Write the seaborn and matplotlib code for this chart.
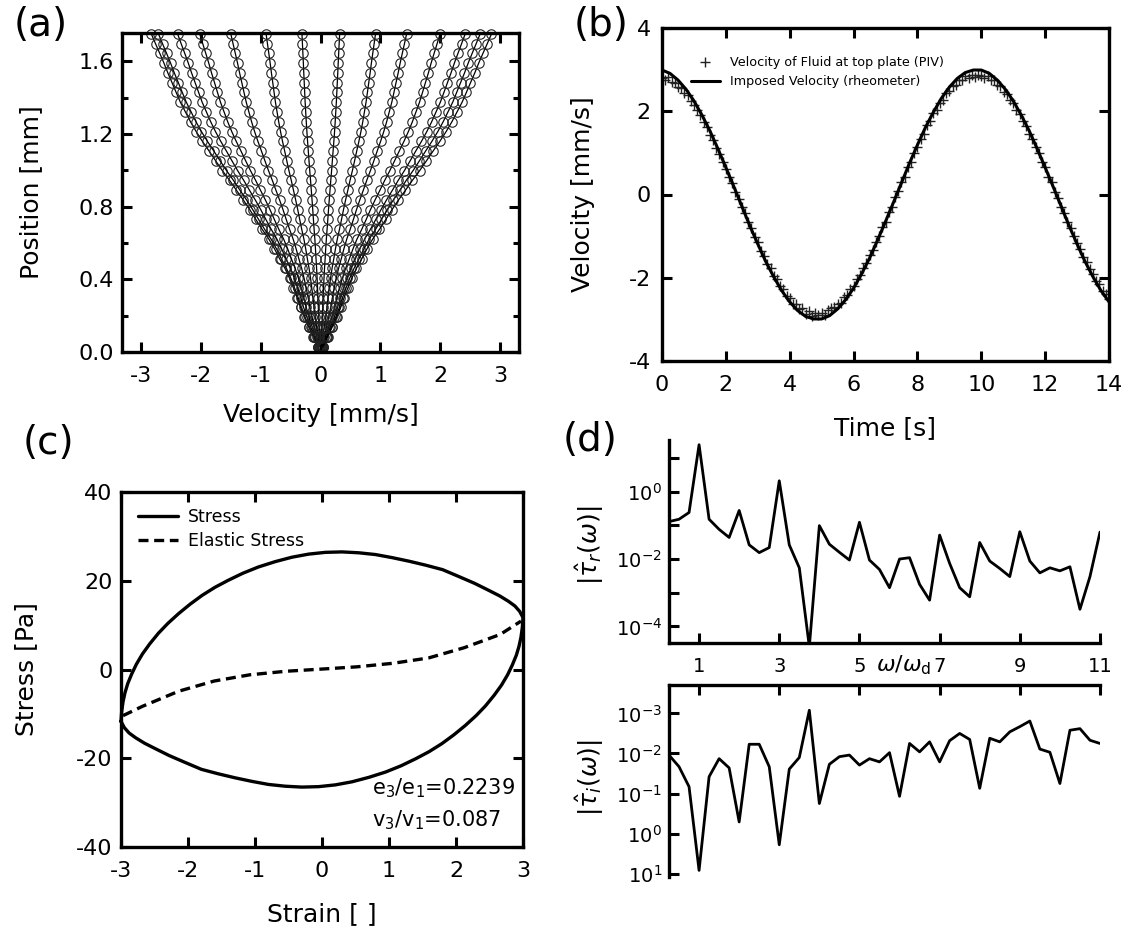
import numpy as np
import pandas as pd
import matplotlib
matplotlib.use("Agg")
import matplotlib.pyplot as plt
import seaborn as sns
from matplotlib.lines import Line2D
from matplotlib.ticker import FixedLocator, FixedFormatter, NullLocator

# ---------------- data ----------------
# (a) velocity profiles across the gap, one per phase of the oscillation
position_mm = [0.030, 0.084, 0.138, 0.191, 0.245, 0.299, 0.353, 0.406, 0.460, 0.514, 0.568,
               0.621, 0.675, 0.729, 0.783, 0.836, 0.890, 0.944, 0.998, 1.051, 1.105, 1.159,
               1.213, 1.266, 1.320, 1.374, 1.428, 1.481, 1.535, 1.589, 1.643, 1.696, 1.750]
profile_shape = [0.015, 0.042, 0.069, 0.095, 0.118, 0.138, 0.160, 0.183, 0.210, 0.242, 0.272,
                 0.305, 0.345, 0.382, 0.418, 0.456, 0.497, 0.537, 0.580, 0.619, 0.658, 0.698,
                 0.735, 0.768, 0.798, 0.828, 0.853, 0.877, 0.902, 0.925, 0.950, 0.975, 1.000]
top_velocity = [-2.83, -2.71, -2.39, -2.02, -1.50, -0.91, -0.31,
                0.32, 0.92, 1.44, 2.00, 2.42, 2.67, 2.86]

# (b) plate velocity vs time
time_line = np.linspace(0, 14, 57)
imposed_velocity = [2.99, 2.91, 2.75, 2.53, 2.25, 1.91, 1.53, 1.10, 0.65, 0.19,
                    -0.28, -0.75, -1.19, -1.61, -1.98, -2.31, -2.58, -2.79, -2.93, -2.99,
                    -2.99, -2.91, -2.75, -2.53, -2.25, -1.91, -1.53, -1.10, -0.65, -0.19,
                    0.28, 0.75, 1.19, 1.61, 1.98, 2.31, 2.58, 2.79, 2.93, 2.99,
                    2.99, 2.91, 2.75, 2.53, 2.25, 1.91, 1.53, 1.10, 0.65, 0.19,
                    -0.28, -0.75, -1.19, -1.61, -1.98, -2.31, -2.58]
time_piv = np.linspace(0, 14, 141)
piv_velocity = [2.80, 2.74, 2.83, 2.70, 2.68, 2.58, 2.55, 2.44, 2.38, 2.24,
                2.15, 2.02, 1.90, 1.74, 1.62, 1.44, 1.30, 1.12, 0.97, 0.78,
                0.62, 0.42, 0.28, 0.06, -0.10, -0.30, -0.44, -0.66, -0.80, -1.01,
                -1.14, -1.35, -1.47, -1.66, -1.77, -1.95, -2.04, -2.21, -2.28, -2.44,
                -2.48, -2.62, -2.64, -2.76, -2.72, -2.86, -2.80, -2.92, -2.84, -2.90,
                -2.85, -2.90, -2.78, -2.72, -2.70, -2.62, -2.60, -2.46, -2.42, -2.27,
                -2.20, -2.02, -1.94, -1.76, -1.65, -1.46, -1.34, -1.13, -1.00, -0.78,
                -0.65, -0.43, -0.29, -0.07, 0.08, 0.29, 0.43, 0.65, 0.79, 1.00,
                1.13, 1.34, 1.46, 1.66, 1.76, 1.95, 2.03, 2.21, 2.27, 2.43,
                2.48, 2.61, 2.63, 2.76, 2.74, 2.85, 2.80, 2.88, 2.82, 2.86,
                2.84, 2.80, 2.84, 2.74, 2.75, 2.62, 2.60, 2.46, 2.42, 2.26,
                2.20, 2.03, 1.94, 1.76, 1.65, 1.46, 1.34, 1.13, 1.00, 0.79,
                0.65, 0.43, 0.29, 0.07, -0.08, -0.29, -0.44, -0.65, -0.80, -0.99,
                -1.16, -1.31, -1.50, -1.62, -1.80, -1.90, -2.07, -2.16, -2.31, -2.38, -2.52]

# (c) Lissajous loop: upper branch left->right, then lower branch right->left
strain_loop = [-3.00, -2.99, -2.97, -2.94, -2.90, -2.84, -2.77, -2.68, -2.57, -2.44, -2.30,
               -2.14, -1.97, -1.79, -1.60, -1.40, -1.18, -0.95, -0.70, -0.45, -0.20, 0.05,
               0.30, 0.55, 0.80, 1.05, 1.30, 1.55, 1.80, 2.05, 2.28, 2.48, 2.65, 2.78, 2.88,
               2.95, 3.00,
               2.99, 2.97, 2.94, 2.90, 2.84, 2.77, 2.68, 2.57, 2.44, 2.30,
               2.14, 1.97, 1.79, 1.60, 1.40, 1.18, 0.95, 0.70, 0.45, 0.20, -0.05,
               -0.30, -0.55, -0.80, -1.05, -1.30, -1.55, -1.80, -2.05, -2.28, -2.48, -2.65,
               -2.78, -2.88, -2.95, -3.00]
stress_loop = [-11.7, -9.5, -7.3, -5.2, -3.2, -1.0, 1.2, 3.5, 5.8, 8.2, 10.4,
               12.6, 14.7, 16.7, 18.5, 20.1, 21.7, 23.1, 24.3, 25.3, 26.0, 26.4,
               26.5, 26.3, 25.9, 25.2, 24.4, 23.5, 22.5, 20.9, 19.4, 17.9, 16.6, 15.4, 14.3,
               13.1, 11.7,
               9.5, 7.3, 5.2, 3.2, 1.0, -1.2, -3.5, -5.8, -8.2, -10.4,
               -12.6, -14.7, -16.7, -18.5, -20.1, -21.7, -23.1, -24.3, -25.3, -26.0, -26.4,
               -26.5, -26.3, -25.9, -25.2, -24.4, -23.5, -22.5, -20.9, -19.4, -17.9, -16.6,
               -15.4, -14.3, -13.1, -11.7]
strain_elastic = [-2.97, -2.68, -2.14, -1.61, -1.08, -0.54, 0.00, 0.52, 1.06, 1.59, 2.12, 2.66, 2.97]
stress_elastic = [-10.4, -8.3, -4.9, -2.6, -1.2, -0.4, 0.1, 0.6, 1.4, 2.6, 4.9, 7.9, 10.9]

# (d) Fourier spectrum, log10 of magnitudes
omega = np.linspace(0.25, 11, 44)
tau_r_log10 = [-0.89, -0.82, -0.62, 1.39, -0.82, -1.12, -1.36, -0.56, -1.58, -1.81, -1.66,
               0.32, -1.58, -2.26, -4.60, -1.01, -1.56, -1.80, -2.03, -0.91, -2.03, -2.31,
               -2.85, -2.00, -1.96, -2.75, -3.22, -1.29, -2.13, -2.85, -3.12, -1.51, -2.06,
               -2.28, -2.52, -1.19, -2.06, -2.41, -2.26, -2.35, -2.23, -3.49, -2.52, -1.20]
tau_i_log10 = [-1.96, -1.67, -1.17, 0.92, -1.42, -1.87, -1.64, -0.29, -2.23, -2.23, -1.67,
               0.28, -1.61, -1.90, -3.08, -0.75, -1.73, -1.92, -1.96, -1.71, -1.87, -1.79,
               -2.02, -0.93, -2.25, -2.04, -2.29, -1.79, -2.32, -2.50, -2.35, -1.13, -2.38,
               -2.29, -2.54, -2.67, -2.81, -2.11, -2.03, -1.25, -2.58, -2.62, -2.33, -2.25]

# ---------------- style ----------------
sns.set_style("ticks")
plt.rcParams["font.family"] = ["DejaVu Sans"]
plt.rcParams["mathtext.fontset"] = "dejavusans"
plt.rcParams["axes.unicode_minus"] = False
plt.rcParams["text.color"] = "black"
plt.rcParams["axes.labelcolor"] = "black"

TICK = 16
LABEL = 18
W, H = 1125, 931


def frame(ax, sides=("left", "right", "top", "bottom")):
    for name, sp in ax.spines.items():
        sp.set_linewidth(2.4)
        sp.set_color("black")
        sp.set_visible(name in sides)
    ax.tick_params(which="major", direction="in", length=7.5, width=2.2,
                   labelsize=TICK, color="black", labelcolor="black")
    ax.tick_params(which="minor", direction="in", length=4, width=2.2, color="black")
    ax.tick_params(axis="x", pad=10)
    ax.tick_params(axis="y", pad=6)


def box(left, top, right, bottom):
    return [left / W, 1 - bottom / H, (right - left) / W, (bottom - top) / H]


fig = plt.figure(figsize=(11.25, 9.31), dpi=100)

# ---------------- (a) ----------------
ax_a = fig.add_axes(box(122, 33, 519, 352))
rows = []
for i, vt in enumerate(top_velocity):
    for p, s in zip(position_mm, profile_shape):
        rows.append((i, p, vt * s))
df_a = pd.DataFrame(rows, columns=["profile", "position", "velocity"])
sns.lineplot(data=df_a, x="velocity", y="position", units="profile", estimator=None,
             sort=False, color="black", lw=0.9, marker="o", ms=6.8, mfc="none",
             mec="#222222", mew=0.8, clip_on=False, ax=ax_a)
ax_a.set_xlim(-3.32, 3.32)
ax_a.set_ylim(0, 1.755)
ax_a.set_xticks(range(-3, 4))
ax_a.set_yticks([0, 0.4, 0.8, 1.2, 1.6])
ax_a.set_yticklabels(["0.0", "0.4", "0.8", "1.2", "1.6"])
ax_a.yaxis.set_minor_locator(FixedLocator([0.2, 0.6, 1.0, 1.4]))
frame(ax_a)
ax_a.tick_params(which="both", top=True, right=True)
ax_a.set_xlabel("Velocity [mm/s]", fontsize=LABEL)
ax_a.set_ylabel("Position [mm]", fontsize=LABEL)
ax_a.xaxis.set_label_coords(0.5, -0.16)
ax_a.yaxis.set_label_coords(-0.20, 0.5)

# ---------------- (b) ----------------
ax_b = fig.add_axes(box(662, 28, 1109, 361))
sns.scatterplot(x=time_piv, y=piv_velocity, marker="+", color="#222222", s=60,
                linewidth=1.0, ax=ax_b, zorder=2)
sns.lineplot(x=time_line, y=imposed_velocity, color="black", lw=2.2, ax=ax_b, zorder=3)
ax_b.set_xlim(0, 14)
ax_b.set_ylim(-4, 4)
ax_b.set_xticks(range(0, 15, 2))
ax_b.set_yticks([-4, -2, 0, 2, 4])
frame(ax_b)
ax_b.tick_params(which="both", top=True, right=True)
ax_b.tick_params(axis="y", pad=8)
ax_b.set_xlabel("Time [s]", fontsize=LABEL)
ax_b.set_ylabel("Velocity [mm/s]", fontsize=LABEL)
ax_b.xaxis.set_label_coords(0.5, -0.165)
ax_b.yaxis.set_label_coords(-0.15, 0.5)
handles_b = [Line2D([], [], ls="none", marker="+", color="#222222", ms=7, mew=1.0),
             Line2D([], [], color="black", lw=2.2)]
ax_b.legend(handles_b, ["Velocity of Fluid at top plate (PIV)", "Imposed Velocity (rheometer)"],
            loc="upper left", bbox_to_anchor=(0.05, 0.935), frameon=False, fontsize=9.2,
            handlelength=2.3, handletextpad=0.8, labelspacing=0.5, borderpad=0)

# ---------------- (c) ----------------
ax_c = fig.add_axes(box(121, 492, 523, 847))
df_loop = pd.DataFrame({"strain": strain_loop, "stress": stress_loop})
sns.lineplot(data=df_loop, x="strain", y="stress", sort=False, estimator=None,
             color="black", lw=2.4, clip_on=False, ax=ax_c)
df_el = pd.DataFrame({"strain": strain_elastic, "stress": stress_elastic})
sns.lineplot(data=df_el, x="strain", y="stress", sort=False, estimator=None,
             color="black", lw=2.4, ls=(0, (3, 1.7)), ax=ax_c)
ax_c.set_xlim(-3, 3)
ax_c.set_ylim(-40, 40)
ax_c.set_xticks(range(-3, 4))
ax_c.set_yticks([-40, -20, 0, 20, 40])
frame(ax_c)
ax_c.tick_params(which="both", top=True, right=True)
ax_c.set_xlabel("Strain [ ]", fontsize=LABEL)
ax_c.set_ylabel("Stress [Pa]", fontsize=LABEL)
ax_c.xaxis.set_label_coords(0.5, -0.155)
ax_c.yaxis.set_label_coords(-0.205, 0.5)
handles_c = [Line2D([], [], color="black", lw=2.4),
             Line2D([], [], color="black", lw=2.4, ls=(0, (3, 1.7)))]
ax_c.legend(handles_c, ["Stress", "Elastic Stress"], loc="upper left",
            bbox_to_anchor=(0.02, 0.98), frameon=False, fontsize=12.5,
            handlelength=2.3, handletextpad=0.6, labelspacing=0.35, borderpad=0)
ax_c.text(0.625, 0.166, r"$\mathregular{e_3/e_1}$=0.2239", transform=ax_c.transAxes,
          fontsize=15, va="center", ha="left")
ax_c.text(0.625, 0.076, r"$\mathregular{v_3/v_1}$=0.087", transform=ax_c.transAxes,
          fontsize=15, va="center", ha="left")

# ---------------- (d) top: real part ----------------
ax_d1 = fig.add_axes(box(669, 440, 1100, 643))
sns.lineplot(x=omega, y=10.0 ** np.array(tau_r_log10), color="black", lw=2.0, ax=ax_d1)
ax_d1.set_yscale("log")
ax_d1.set_xlim(0.25, 11)
ax_d1.set_ylim(10 ** -4.49, 10 ** 1.53)
frame(ax_d1, sides=("left", "bottom"))
ax_d1.yaxis.set_major_locator(FixedLocator([10.0 ** e for e in range(-4, 2)]))
ax_d1.yaxis.set_major_formatter(FixedFormatter([r"$10^{-4}$", "", r"$10^{-2}$", "",
                                                r"$10^{0}$", ""]))
ax_d1.yaxis.set_minor_locator(NullLocator())
ax_d1.set_xticks([1, 3, 5, 7, 9, 11])
ax_d1.tick_params(labelsize=14)
ax_d1.tick_params(axis="y", pad=5)
ax_d1.set_ylabel(r"$|\hat{\tau}_r(\omega)|$", fontsize=18)
ax_d1.yaxis.set_label_coords(-0.146, 0.48)
fig.text(904 / W, 1 - 665 / H, r"$\omega/\omega_{\mathregular{d}}$", fontsize=16,
         ha="center", va="center")

# ---------------- (d) bottom: imaginary part ----------------
ax_d2 = fig.add_axes(box(669, 685, 1100, 877))
sns.lineplot(x=omega, y=10.0 ** np.array(tau_i_log10), color="black", lw=2.0, ax=ax_d2)
ax_d2.set_yscale("log")
ax_d2.set_xlim(0.25, 11)
ax_d2.set_ylim(10 ** 1.085, 10 ** -3.71)
frame(ax_d2, sides=("left", "top"))
ax_d2.xaxis.tick_top()
ax_d2.set_xticks([1, 3, 5, 7, 9, 11])
ax_d2.tick_params(axis="x", labeltop=False, labelbottom=False)
ax_d2.yaxis.set_major_locator(FixedLocator([10.0 ** e for e in range(-3, 2)]))
ax_d2.yaxis.set_major_formatter(FixedFormatter([r"$10^{-3}$", r"$10^{-2}$", r"$10^{-1}$",
                                                r"$10^{0}$", r"$10^{1}$"]))
ax_d2.yaxis.set_minor_locator(NullLocator())
ax_d2.tick_params(labelsize=14)
ax_d2.tick_params(axis="y", pad=5)
ax_d2.set_ylabel(r"$|\hat{\tau}_i(\omega)|$", fontsize=18)
ax_d2.yaxis.set_label_coords(-0.146, 0.516)

# panel letters
for letter, (x, y) in {"(a)": (41, 25), "(b)": (601, 25), "(c)": (48, 443),
                       "(d)": (590, 440)}.items():
    fig.text(x / W, 1 - y / H, letter, fontsize=28, ha="center", va="center")

fig.savefig("out.png", dpi=100)
